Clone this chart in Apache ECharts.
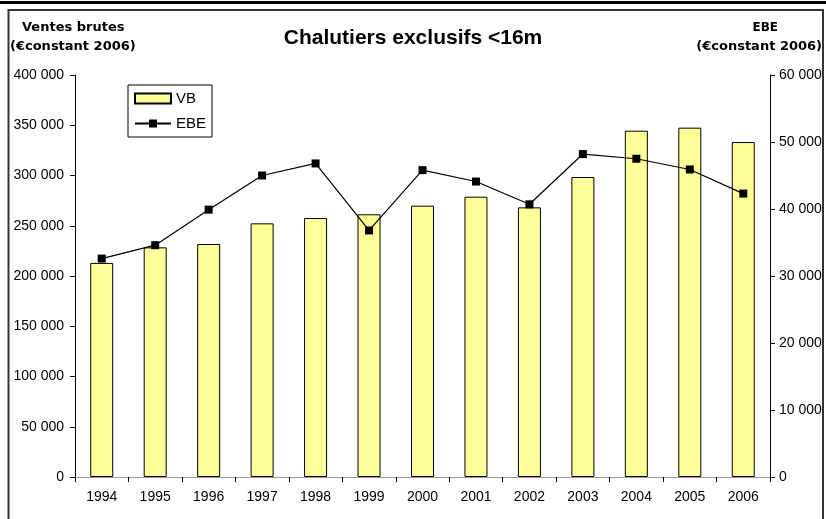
<!DOCTYPE html>
<html><head><meta charset="utf-8">
<script src="https://cdn.jsdelivr.net/npm/echarts@6/dist/echarts.min.js"></script>
<style>html,body{margin:0;padding:0;background:#fff}#c{width:826px;height:519px}</style>
</head><body><div id="c"></div>
<script>
const years = ['1994','1995','1996','1997','1998','1999','2000','2001','2002','2003','2004','2005','2006'];
const vb = [213000,228500,231800,252400,257700,261400,270000,278900,268300,298500,344600,347600,333300];
const ebe = [32600,34600,39900,45000,46800,36800,45800,44100,40700,48200,47500,45900,42300];
const fmt = v => String(v).replace(/\B(?=(\d{3})+(?!\d))/g, ' ');
const font = 'Arial, "Liberation Sans", sans-serif';
const wfont = '"DejaVu Sans", Verdana, sans-serif';
const chart = echarts.init(document.getElementById('c'));
chart.setOption({
  animation:false,
  textStyle:{fontFamily:font},
  grid:{left:75,right:56,top:75,bottom:42},
  legend:{
    left:128, top:85, width:89, height:56, orient:'vertical',
    padding:[6,6,6,6], itemGap:10,
    borderColor:'#000', borderWidth:1, backgroundColor:'#fff',
    itemWidth:36, itemHeight:10,
    textStyle:{fontSize:15, color:'#000', fontFamily:font},
    data:[{name:'VB', icon:'rect'},{name:'EBE'}]
  },
  xAxis:[{
    type:'category', data:years,
    axisLine:{lineStyle:{color:'#000'}},
    axisTick:{show:true, alignWithLabel:false, length:5, inside:false, lineStyle:{color:'#000'}},
    axisLabel:{color:'#000', fontSize:14, margin:13, fontFamily:font},
    splitLine:{show:false}
  },{
    type:'category', data:years, position:'top',
    axisLine:{show:true, lineStyle:{color:'#999'}},
    axisTick:{show:false}, axisLabel:{show:false}
  }],
  yAxis:[{
    type:'value', min:0, max:400000, interval:50000,
    axisLine:{show:true, lineStyle:{color:'#000'}},
    axisTick:{show:true, length:5, lineStyle:{color:'#000'}},
    axisLabel:{color:'#000', fontSize:14, margin:11, formatter:fmt, fontFamily:font},
    splitLine:{show:false}
  },{
    type:'value', min:0, max:60000, interval:10000, position:'right',
    axisLine:{show:true, lineStyle:{color:'#000'}},
    axisTick:{show:true, length:5, lineStyle:{color:'#000'}},
    axisLabel:{color:'#000', fontSize:14, margin:9, formatter:fmt, fontFamily:font},
    splitLine:{show:false}
  }],
  series:[{
    name:'VB', type:'bar', data:vb, barWidth:'43%',
    itemStyle:{color:'#FFFF99', borderColor:'#000', borderWidth:1}
  },{
    name:'EBE', type:'line', yAxisIndex:1, data:ebe,
    symbol:'rect', symbolSize:8,
    lineStyle:{color:'#000', width:1.2},
    itemStyle:{color:'#000'}
  }],
  graphic:[
    {type:'rect', shape:{x:0,y:1,width:826,height:3}, style:{fill:'#000'}},
    {type:'line', shape:{x1:8.5,y1:9,x2:8.5,y2:519}, style:{stroke:'#333',lineWidth:2}},
    {type:'line', shape:{x1:8,y1:10,x2:823,y2:10}, style:{stroke:'#333',lineWidth:2}},
    {type:'line', shape:{x1:823,y1:9,x2:823,y2:519}, style:{stroke:'#333',lineWidth:2}},
    {type:'text', left:22, top:21, style:{text:'Ventes brutes', font:'bold 13px '+wfont, fill:'#000'}},
    {type:'text', left:10, top:40, style:{text:'(€constant 2006)', font:'bold 13px '+wfont, fill:'#000'}},
    {type:'text', left:'center', top:28, style:{text:'Chalutiers exclusifs <16m', font:'bold 21px '+font, fill:'#000', x:4}},
    {type:'text', right:48, top:22, style:{text:'EBE', font:'bold 12px '+wfont, fill:'#000'}},
    {type:'text', right:4, top:40, style:{text:'(€constant 2006)', font:'bold 13px '+wfont, fill:'#000'}}
  ]
});
</script></body></html>
